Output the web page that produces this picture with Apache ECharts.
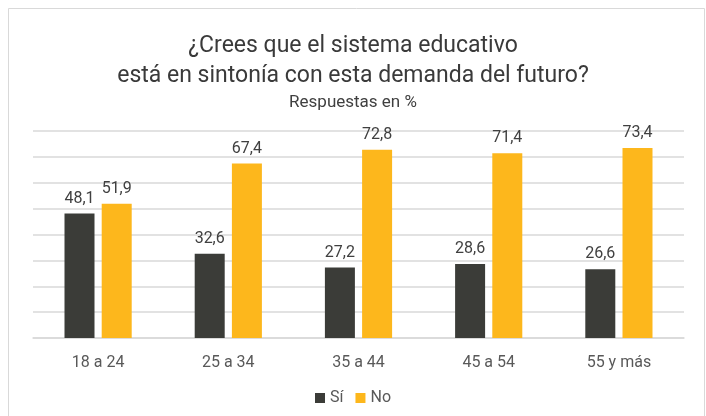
<!DOCTYPE html>
<html>
<head>
<meta charset="utf-8">
<script src="https://cdn.jsdelivr.net/npm/echarts@6/dist/echarts.min.js"></script>
<style>
  html, body { margin: 0; padding: 0; background: #fff; }
  #chart { width: 706px; height: 416px; }
</style>
</head>
<body>
<div id="chart"></div>
<script>
  // datos
  const categorias = ['18 a 24', '25 a 34', '35 a 44', '45 a 54', '55 y más']
  const valoresSi = [48.1, 32.6, 27.2, 28.6, 26.6]
  const valoresNo = [51.9, 67.4, 72.8, 71.4, 73.4]

  const chart = echarts.init(document.getElementById('chart'))

  const labelStyle = {
    show: true,
    position: 'top',
    distance: 7,
    fontFamily: 'Roboto',
    fontSize: 16,
    color: '#404040',
    formatter: p => String(p.value).replace('.', ',')
  }

  chart.setOption({
    backgroundColor: '#fff',
    animation: false,
    title: [
      {
        text: '¿Crees que el sistema educativo\nestá en sintonía con esta demanda del futuro?',
        left: 'center',
        top: 26,
        textStyle: {
          fontFamily: 'Roboto',
          fontWeight: 'normal',
          fontSize: 23,
          lineHeight: 30,
          color: '#3a3a3a'
        }
      },
      {
        text: 'Respuestas en %',
        left: 'center',
        top: 89,
        textStyle: {
          fontFamily: 'Roboto',
          fontWeight: 'normal',
          fontSize: 17,
          color: '#404040'
        }
      }
    ],
    graphic: [{
      type: 'rect',
      shape: { x: 8.5, y: 8.5, width: 696, height: 420 },
      style: { fill: 'none', stroke: '#d9d9d9', lineWidth: 1 },
      silent: true
    }],
    legend: {
      bottom: 5,
      left: 'center',
      itemWidth: 10,
      itemHeight: 10,
      itemGap: 12,
      icon: 'rect',
      textStyle: { fontFamily: 'Roboto', fontSize: 16, color: '#595959' },
      data: ['Sí', 'No']
    },
    grid: { left: 33, right: 22, top: 131, bottom: 78 },
    xAxis: {
      type: 'category',
      data: categorias,
      axisTick: { show: false },
      axisLine: { lineStyle: { color: '#d9d9d9', width: 1.5 } },
      axisLabel: { margin: 17, fontFamily: 'Roboto', fontSize: 16, color: '#595959' }
    },
    yAxis: {
      type: 'value',
      min: 0,
      max: 80,
      interval: 10,
      axisLabel: { show: false },
      axisLine: { show: false },
      axisTick: { show: false },
      splitLine: { lineStyle: { color: '#d9d9d9', width: 1.5 } }
    },
    series: [
      {
        name: 'Sí',
        type: 'bar',
        data: valoresSi,
        barWidth: 30,
        barGap: '24%',
        itemStyle: { color: '#3b3c38' },
        label: labelStyle
      },
      {
        name: 'No',
        type: 'bar',
        data: valoresNo,
        barWidth: 30,
        itemStyle: { color: '#fdb71c' },
        label: labelStyle
      }
    ]
  })
</script>
</body>
</html>
